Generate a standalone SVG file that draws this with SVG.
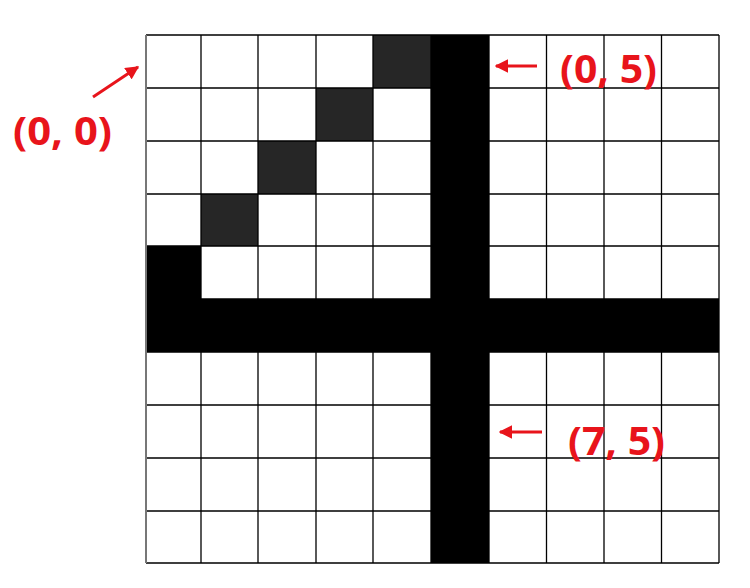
<svg xmlns="http://www.w3.org/2000/svg" width="750" height="588" viewBox="0 0 750 588">
<defs>
<style>
.dark{fill:#262626}
.blk{fill:#000}
.gl{stroke:#000;stroke-width:1.3;fill:none}
.lbl{font-family:"Noto Sans","Liberation Sans",Arial,sans-serif;font-weight:bold;font-size:39px;fill:#e8141b}
.arr{stroke:#e8141b;stroke-width:3;fill:none}
</style>
<marker id="ah" viewBox="0 0 10 10" refX="9" refY="5" markerWidth="4.5" markerHeight="4.5" orient="auto" markerUnits="strokeWidth">
<path d="M0,0 L10,5 L0,10 z" fill="#e8141b"/>
</marker>
</defs>
<rect width="750" height="588" fill="#fff"/>
<g id="cells">
<rect class="dark" x="373" y="35" width="58" height="53"/>
<rect class="dark" x="316" y="88" width="57" height="53"/>
<rect class="dark" x="258" y="141" width="58" height="53"/>
<rect class="dark" x="201" y="194" width="57" height="52"/>
<rect class="blk" x="431" y="35" width="58" height="528"/>
<rect class="blk" x="146" y="299" width="573" height="53"/>
<rect class="blk" x="146" y="246" width="55" height="53"/>
</g>
<g id="grid" class="gl">
<path d="M201,35V563M258,35V563M316,35V563M373,35V563M431,35V563M489,35V563M546.5,35V563M604,35V563M661.5,35V563M719,35V563"/>
<path d="M146,35H719M146,88H719M146,141H719M146,194H719M146,246H719M146,299H719M146,352H719M146,405H719M146,458H719M146,511H719M146,563H719"/>
<path d="M146,35V563" stroke="#777" stroke-width="2"/>
</g>
<g id="connectors">
<path class="arr" d="M93,97L138,67" marker-end="url(#ah)"/>
<path class="arr" d="M537,66H496" marker-end="url(#ah)"/>
<path class="arr" d="M542,432H500" marker-end="url(#ah)"/>
</g>
<g id="label-00"><text class="lbl" x="13" y="145" textLength="99" lengthAdjust="spacingAndGlyphs">(0, 0)</text></g>
<g id="label-05"><text class="lbl" x="560" y="83" textLength="97" lengthAdjust="spacingAndGlyphs">(0, 5)</text></g>
<g id="label-75"><text class="lbl" x="568" y="455" textLength="97" lengthAdjust="spacingAndGlyphs">(7, 5)</text></g>
</svg>
